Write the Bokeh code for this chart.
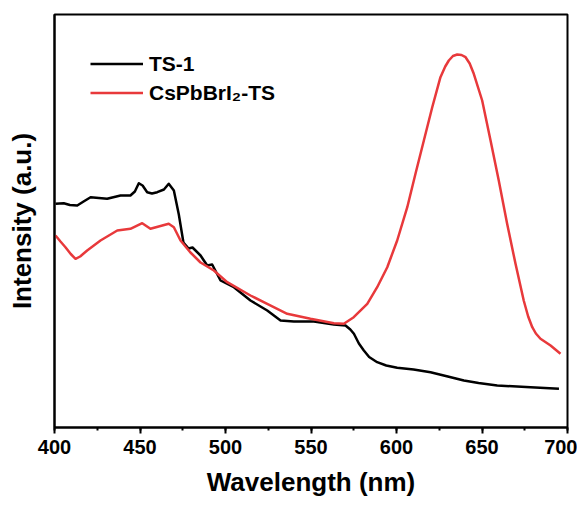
from bokeh.plotting import figure
from bokeh.models import Range1d, SingleIntervalTicker, FixedTicker, Legend, LegendItem
from bokeh.embed import file_html
from bokeh.resources import INLINE

# TS-1 (black)
ts1_wl = [400.6, 405.4, 409.0, 413.3, 417.0, 421.1, 430.8, 438.6, 444.4, 447.0,
          449.3, 451.5, 454.2, 457.0, 460.1, 464.0, 466.8, 469.8, 472.7, 475.4,
          478.4, 480.7, 485.4, 489.3, 492.2, 497.1, 504.9, 514.6, 524.4, 532.2,
          540.0, 551.7, 563.4, 570.2, 573.0, 575.1, 578.0, 580.9, 584.0, 588.7,
          594.0, 600.4, 610.0, 619.9, 630.0, 639.4, 648.0, 658.9, 678.4, 695.0]
ts1_int = [223.7, 224.3, 222.5, 222.0, 226.0, 230.3, 228.7, 232.0, 232.0, 236.0,
           244.3, 242.0, 235.3, 234.0, 235.3, 238.0, 243.7, 237.0, 213.0, 185.0,
           179.0, 180.0, 172.0, 162.0, 163.0, 147.0, 140.3, 127.0, 117.0, 107.0,
           106.0, 106.0, 103.0, 102.0, 98.0, 93.7, 84.0, 77.0, 70.5, 65.3,
           62.0, 59.7, 58.0, 55.3, 51.0, 47.0, 44.5, 42.0, 40.3, 38.7]

# CsPbBrI2-TS (red)
cs_wl = [400.6, 403.5, 406.4, 409.5, 412.3, 415.0, 419.1, 426.9, 436.7, 444.4,
         451.3, 456.1, 466.8, 469.8, 473.7, 479.5, 485.4, 493.2, 501.0, 514.6,
         524.4, 536.1, 549.7, 563.4, 569.2, 575.0, 582.9, 588.7, 594.6, 600.4,
         606.3, 611.1, 616.0, 620.9, 625.7, 628.5, 630.6, 633.0, 635.5, 638.0,
         640.4, 642.8, 645.2, 650.1, 655.0, 659.8, 664.7, 669.6, 674.4, 677.0,
         679.4, 681.5, 684.2, 690.1, 695.9]
cs_int = [192.0, 186.0, 180.3, 173.5, 168.7, 171.0, 177.0, 187.0, 197.0, 198.7,
          204.3, 198.7, 203.7, 200.3, 187.0, 175.0, 165.0, 157.0, 145.3, 132.0,
          123.7, 113.7, 108.7, 104.3, 103.7, 110.3, 123.7, 140.3, 160.3, 187.0,
          220.3, 253.7, 287.0, 320.3, 350.3, 361.0, 367.0, 371.5, 373.0, 372.5,
          370.3, 364.0, 353.7, 327.0, 287.0, 247.0, 203.7, 163.7, 127.0, 111.0,
          100.3, 94.0, 88.7, 82.0, 73.7]

series_names = ["TS-1", "CsPbBrI\u2082-TS"]
series_colors = ["#000000", "#E8393B"]

FONT = "Liberation Sans"

p = figure(output_backend="svg", toolbar_location=None,
           frame_width=513, frame_height=413,
           x_range=Range1d(400, 700), y_range=Range1d(0, 413),
           min_border_left=54, min_border_top=14, min_border_right=10,
           min_border_bottom=0)
p.background_fill_color = "white"
p.border_fill_color = "white"
p.grid.visible = False
p.outline_line_color = "black"
p.outline_line_width = 2

r1 = p.line(ts1_wl, ts1_int, line_color=series_colors[0], line_width=2.5,
            line_join="round")
r2 = p.line(cs_wl, cs_int, line_color=series_colors[1], line_width=2.5,
            line_join="round")

# x axis
xa = p.xaxis[0]
xa.ticker = SingleIntervalTicker(interval=50, num_minor_ticks=2)
xa.axis_line_width = 2
xa.major_tick_line_width = 2
xa.minor_tick_line_width = 2
xa.major_tick_out = 6
xa.major_tick_in = 0
xa.minor_tick_out = 3
xa.minor_tick_in = 0
xa.major_label_text_font = FONT
xa.major_label_text_font_style = "bold"
xa.major_label_text_font_size = "20px"
xa.major_label_text_color = "black"
xa.major_label_standoff = 6
xa.axis_label = "Wavelength (nm)"
xa.axis_label_text_font = FONT
xa.axis_label_text_font_style = "bold"
xa.axis_label_text_font_size = "26px"
xa.axis_label_text_color = "black"
xa.axis_label_standoff = 10

# y axis
ya = p.yaxis[0]
ya.ticker = FixedTicker(ticks=[])
ya.axis_line_width = 2
ya.major_tick_out = 0
ya.major_tick_in = 0
ya.minor_tick_out = 0
ya.minor_tick_in = 0
ya.major_label_text_font_size = "0px"
ya.axis_label = "Intensity (a.u.)"
ya.axis_label_text_font = FONT
ya.axis_label_text_font_style = "bold"
ya.axis_label_text_font_size = "26px"
ya.axis_label_text_color = "black"
ya.axis_label_standoff = 18

legend = Legend(items=[LegendItem(label=series_names[0], renderers=[r1]),
                       LegendItem(label=series_names[1], renderers=[r2])],
                location=(36, 320))
legend.padding = 0
legend.margin = 0
legend.spacing = 0
legend.glyph_height = 29
legend.glyph_width = 53
legend.label_standoff = 6
legend.label_text_font = FONT
legend.label_text_font_style = "bold"
legend.label_text_font_size = "21px"
legend.label_text_color = "black"
legend.border_line_color = None
legend.background_fill_alpha = 0
p.add_layout(legend)

open("out.html", "w").write(file_html(p, INLINE))
